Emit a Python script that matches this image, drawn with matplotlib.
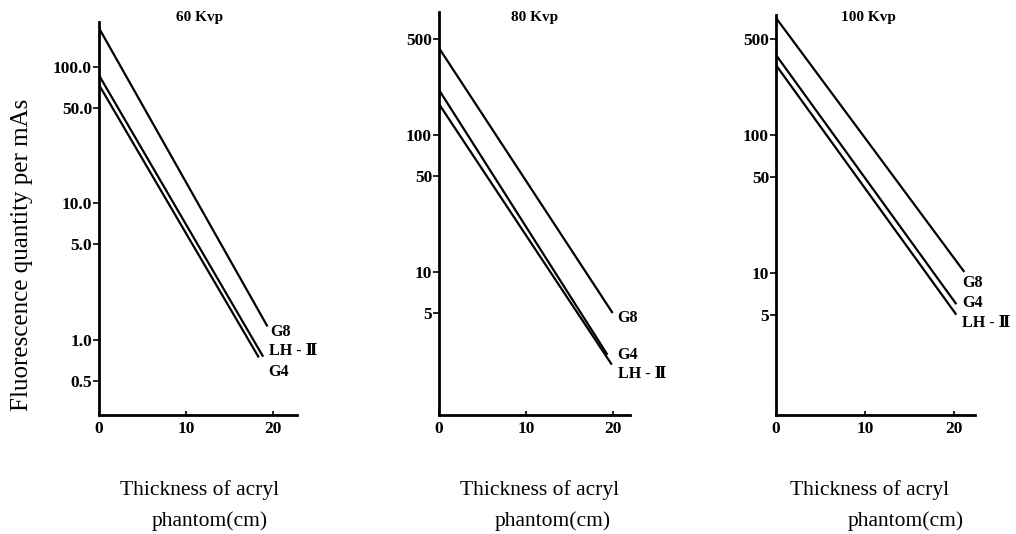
import matplotlib
matplotlib.use("Agg")
import matplotlib.pyplot as plt
from matplotlib.ticker import FixedLocator, NullLocator, FixedFormatter

plt.rcParams['font.family'] = ['Liberation Serif', 'DejaVu Serif']

# ---- data ----
titles = ["60 Kvp", "80 Kvp", "100 Kvp"]
series_names = [["G8", "LH - Ⅱ", "G4"], ["G8", "G4", "LH - Ⅱ"], ["G8", "G4", "LH - Ⅱ"]]
x_start = [[0, 0, 0], [0, 0, 0], [0, 0, 0]]
x_end = [[19.4, 18.9, 18.4], [20.0, 19.4, 19.9], [21.2, 20.3, 20.3]]
y_start = [[193, 87, 74], [431, 213, 168], [705, 380, 321]]
y_end = [[1.25, 0.75, 0.74], [5.0, 2.48, 2.1], [10.2, 5.96, 5.0]]
y_ticks = [[100, 50, 10, 5, 1, 0.5], [500, 100, 50, 10, 5], [500, 100, 50, 10, 5]]
y_ticklabels = [["100.0", "50.0", "10.0", "5.0", "1.0", "0.5"],
                ["500", "100", "50", "10", "5"],
                ["500", "100", "50", "10", "5"]]
x_ticks = [0, 10, 20]
x_ticklabels = ["0", "10", "20"]

# ---- layout ----
W, H = 1016, 534
boxes = [(99, 297, 22, 415), (439, 630, 12, 415), (776, 975, 15, 415)]
xlims = [(0, 22.8), (0, 22.0), (0, 22.4)]
ylims = [(0.28, 214), (0.9, 790), (0.94, 740)]
label_offsets = [[(3, -6), (6, 6), (9, -15)],
                 [(5, -5), (10, 0), (6, -9)],
                 [(-2, -11), (6, 1), (6, -8)]]
title_x = [200, 535, 868]
xlabel1_left = [120, 460, 790]
xlabel2_left = [152, 495, 848]

fig = plt.figure(figsize=(W / 100, H / 100), dpi=100)

for i in range(3):
    l, r, t, b = boxes[i]
    ax = fig.add_axes([l / W, 1 - b / H, (r - l) / W, (b - t) / H])
    ax.set_yscale('log')
    ax.set_xlim(*xlims[i])
    ax.set_ylim(*ylims[i])
    for k in range(3):
        ax.plot([x_start[i][k], x_end[i][k]], [y_start[i][k], y_end[i][k]],
                color='black', lw=1.6, solid_capstyle='butt')
        ax.annotate(series_names[i][k], xy=(x_end[i][k], y_end[i][k]),
                    xytext=label_offsets[i][k], textcoords='offset pixels',
                    ha='left', va='center', fontsize=11.5, fontweight='bold',
                    family=['Liberation Serif', 'DejaVu Serif'])
    ax.spines['top'].set_visible(False)
    ax.spines['right'].set_visible(False)
    ax.spines['left'].set_linewidth(2)
    ax.spines['bottom'].set_linewidth(2)
    ax.yaxis.set_major_locator(FixedLocator(y_ticks[i]))
    ax.yaxis.set_major_formatter(FixedFormatter(y_ticklabels[i]))
    ax.yaxis.set_minor_locator(NullLocator())
    ax.set_xticks(x_ticks)
    ax.set_xticklabels(x_ticklabels)
    ax.tick_params(axis='y', direction='out', length=4, width=1.2, labelsize=12.5, pad=1)
    ax.tick_params(axis='x', direction='in', length=3, width=1.2, labelsize=12.5, pad=4)
    for lab in ax.get_xticklabels() + ax.get_yticklabels():
        lab.set_fontweight('bold')
    ax.patch.set_alpha(0)
    fig.text(title_x[i] / W, 1 - 18 / H, titles[i], ha='center', va='center',
             fontsize=11, fontweight='bold')
    # x label (two lines)
    fig.text(xlabel1_left[i] / W, 1 - 490 / H, "Thickness of acryl", ha='left', va='center',
             fontsize=15.5)
    fig.text(xlabel2_left[i] / W, 1 - 521 / H, "phantom(cm)", ha='left', va='center',
             fontsize=15.5)

fig.text(22 / W, 1 - 255 / H, "Fluorescence quantity per mAs", rotation=90,
         ha='center', va='center', fontsize=18)

fig.savefig("out.png", dpi=100)
